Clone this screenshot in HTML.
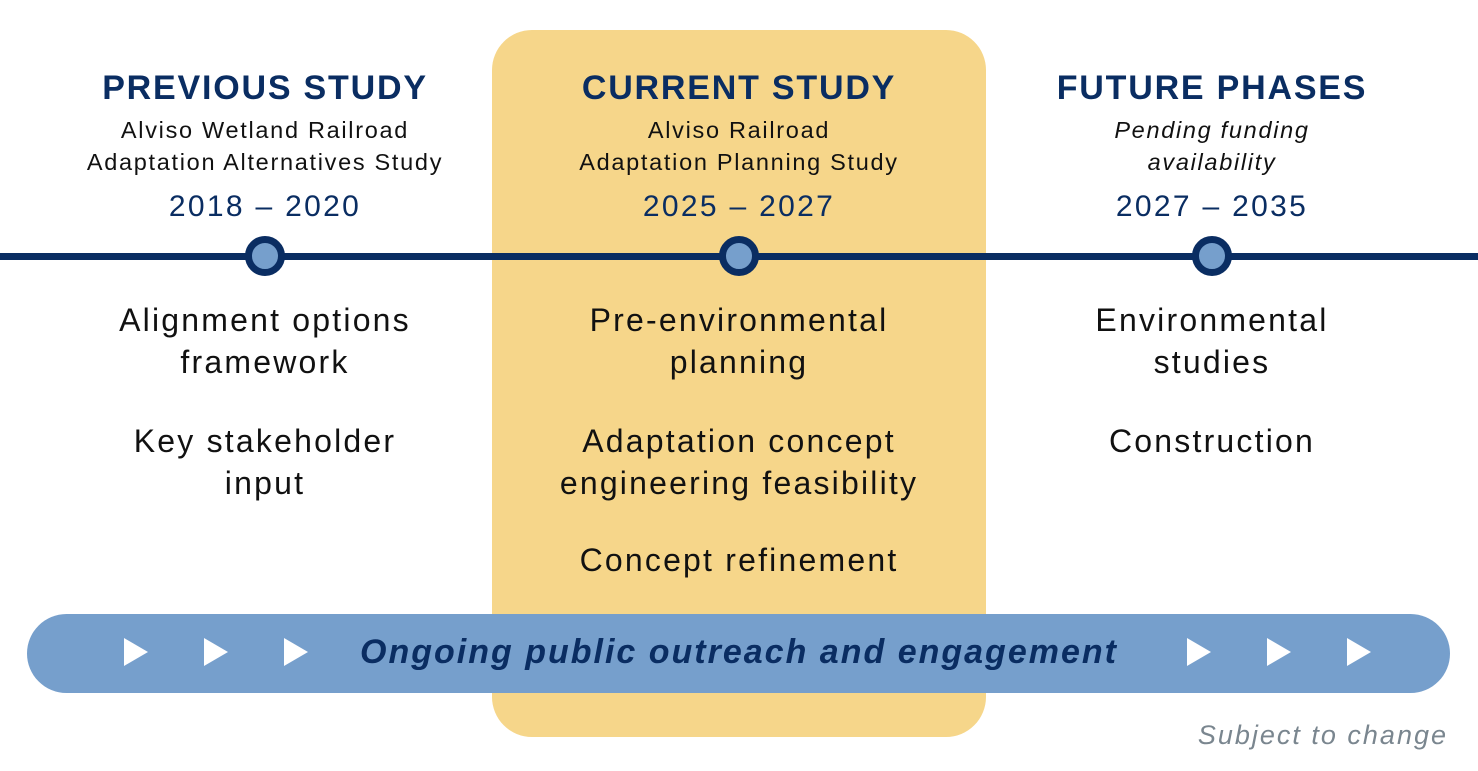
<!DOCTYPE html>
<html><head><meta charset="utf-8"><style>
html,body{margin:0;padding:0;background:#fff;}
body{width:1478px;height:771px;position:relative;overflow:hidden;font-family:"Liberation Sans",sans-serif;color:#111;}
.a{position:absolute;text-align:center;white-space:nowrap;transform:translateX(-50%);}
.h{font-weight:bold;font-size:34px;letter-spacing:1.8px;color:#0a2d62;line-height:40px;}
.s{font-size:23.5px;letter-spacing:1.7px;line-height:32px;color:#111;}
.y{font-size:30px;letter-spacing:2.3px;line-height:36px;color:#0a2d62;}
.b{font-size:32px;letter-spacing:2.2px;line-height:42px;color:#111;}
.tri{position:absolute;width:0;height:0;border-top:14px solid transparent;border-bottom:14px solid transparent;border-left:24px solid #fff;top:638px;}
.dot{position:absolute;width:26px;height:26px;border:7px solid #0a2d62;border-radius:50%;background:#769fcc;top:236px;}
</style></head><body>
<div style="position:absolute;left:492px;top:30px;width:494px;height:707px;background:#f6d68a;border-radius:40px;"></div>
<div style="position:absolute;left:0;top:253px;width:1478px;height:7px;background:#0a2d62;"></div>
<div class="dot" style="left:245px"></div>
<div class="dot" style="left:719px"></div>
<div class="dot" style="left:1192px"></div>

<div class="a h" style="left:265px;top:68px">PREVIOUS STUDY</div>
<div class="a s" style="left:265px;top:114px">Alviso Wetland Railroad<br>Adaptation Alternatives Study</div>
<div class="a y" style="left:265px;top:189px">2018 – 2020</div>
<div class="a b" style="left:265px;top:299px">Alignment options<br>framework</div>
<div class="a b" style="left:265px;top:420px">Key stakeholder<br>input</div>

<div class="a h" style="left:739px;top:68px">CURRENT STUDY</div>
<div class="a s" style="left:739px;top:114px">Alviso Railroad<br>Adaptation Planning Study</div>
<div class="a y" style="left:739px;top:189px">2025 – 2027</div>
<div class="a b" style="left:739px;top:299px">Pre-environmental<br>planning</div>
<div class="a b" style="left:739px;top:420px">Adaptation concept<br>engineering feasibility</div>
<div class="a b" style="left:739px;top:539px">Concept refinement</div>

<div class="a h" style="left:1212px;top:68px">FUTURE PHASES</div>
<div class="a s" style="left:1212px;top:114px;font-style:italic">Pending funding<br>availability</div>
<div class="a y" style="left:1212px;top:189px">2027 – 2035</div>
<div class="a b" style="left:1212px;top:299px">Environmental<br>studies</div>
<div class="a b" style="left:1212px;top:420px">Construction</div>

<div style="position:absolute;left:27px;top:614px;width:1423px;height:79px;background:#769fcc;border-radius:40px;"></div>
<div class="tri" style="left:124px"></div>
<div class="tri" style="left:204px"></div>
<div class="tri" style="left:284px"></div>
<div class="tri" style="left:1187px"></div>
<div class="tri" style="left:1267px"></div>
<div class="tri" style="left:1347px"></div>
<div class="a" style="left:739px;top:632px;font-size:34px;letter-spacing:2px;line-height:40px;font-weight:bold;font-style:italic;color:#0a2d62;">Ongoing public outreach and engagement</div>
<div style="position:absolute;right:30px;top:719px;font-size:27px;letter-spacing:2px;line-height:32px;font-style:italic;color:#7a868f;white-space:nowrap;">Subject to change</div>
</body></html>
